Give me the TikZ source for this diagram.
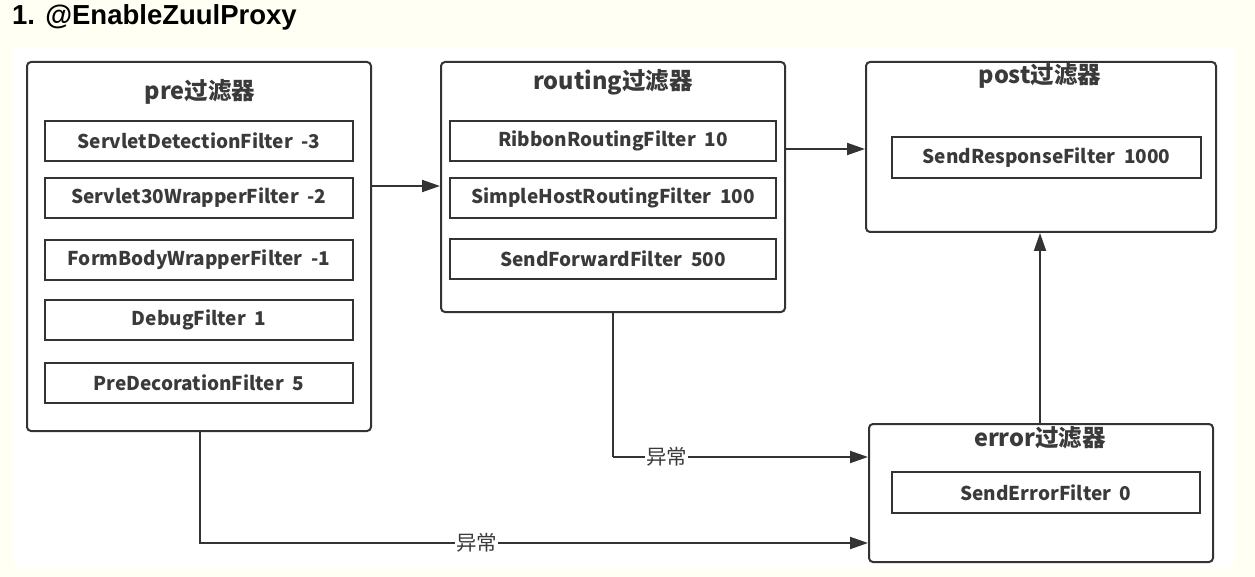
\documentclass[tikz,border=0pt]{standalone}
\usepackage{fontspec}
\setmainfont{Noto Sans CJK SC}
\newfontfamily\titlefont{Liberation Sans}
\usetikzlibrary{arrows.meta,calc}
\definecolor{cream}{RGB}{255,255,243}
\definecolor{ink}{RGB}{51,51,51}
\definecolor{txt}{RGB}{58,58,58}
\begin{document}
\begin{tikzpicture}[x=1pt,y=-1pt,
  outer/.style={draw=ink,line width=2pt,rounded corners=4pt,fill=white,inner sep=0pt},
  inner/.style={draw=ink,line width=1.8pt,fill=white,inner sep=0pt,font=\fontsize{19}{22}\selectfont\bfseries,text=txt},
  ttl/.style={font=\fontsize{23.5}{26}\selectfont\bfseries,text=txt,inner sep=0pt},
  arr/.style={draw=ink,line width=2pt,-{Triangle[length=18pt,width=12pt]}},
  lnk/.style={draw=ink,line width=2pt},
  lab/.style={fill=white,inner sep=1pt,font=\fontsize{20.5}{22}\selectfont,text=txt}]
\fill[cream] (0,0) rectangle (1255,577);
\useasboundingbox (0,0) rectangle (1255,577);
\fill[white] (14,47) rectangle (1234,568);
\node[anchor=base west,inner sep=0pt,font=\titlefont\fontsize{27.5}{30}\selectfont\bfseries] (title) at (12,25) {1. @EnableZuulProxy};
% containers
\node[outer,minimum width=344pt,minimum height=369pt] (pre) at (199,246.5) {};
\node[outer,minimum width=344pt,minimum height=250pt] (routing) at (613,187) {};
\node[outer,minimum width=350pt,minimum height=170pt] (post) at (1041,147) {};
\node[outer,minimum width=344pt,minimum height=138pt] (err) at (1041,493) {};
% titles
\node[ttl] (preT) at (200,92) {pre过滤器};
\node[ttl] (routingT) at (613,82) {routing过滤器};
\node[ttl] (postT) at (1040,76) {post过滤器};
\node[ttl] (errT) at (1040,438) {error过滤器};
% pre filters
\node[inner,minimum width=308pt,minimum height=40pt] (p1) at (199,141) {ServletDetectionFilter\ \ -3};
\node[inner,minimum width=308pt,minimum height=40pt] (p2) at (199,198) {Servlet30WrapperFilter\ \ -2};
\node[inner,minimum width=308pt,minimum height=40pt] (p3) at (199,260) {FormBodyWrapperFilter\ \ -1};
\node[inner,minimum width=308pt,minimum height=40pt] (p4) at (199,320) {DebugFilter\ \ 1};
\node[inner,minimum width=308pt,minimum height=40pt] (p5) at (199,383) {PreDecorationFilter\ \ 5};
% routing filters
\node[inner,minimum width=326pt,minimum height=40pt] (r1) at (613,141) {RibbonRoutingFilter\ \ 10};
\node[inner,minimum width=326pt,minimum height=40pt] (r2) at (613,198) {SimpleHostRoutingFilter\ \ 100};
\node[inner,minimum width=326pt,minimum height=40pt] (r3) at (613,259) {SendForwardFilter\ \ 500};
% post filter
\node[inner,minimum width=309pt,minimum height=41pt] (s1) at (1046.5,157.5) {SendResponseFilter\ \ 1000};
% error filter
\node[inner,minimum width=308pt,minimum height=41pt] (e1) at (1046,492.5) {SendErrorFilter\ \ 0};
% connectors
\draw[arr] (pre.east |- 0,186) -- (routing.west |- 0,186);
\draw[arr] (routing.east |- 0,149) -- (post.west |- 0,149);
\draw[lnk] (routing.south) -- (routing.south |- 0,457) coordinate (rc);
\draw[arr] (rc) -- (err.west |- 0,457) node[lab,pos=0.21] (l1) {异常};
\draw[arr] (pre.south -| 200,0) |- (err.west |- 0,543) node[lab,pos=0.707] (l2) {异常};
\draw[arr] (err.north -| 1040,0) -- (post.south -| 1040,0);
\end{tikzpicture}
\end{document}
